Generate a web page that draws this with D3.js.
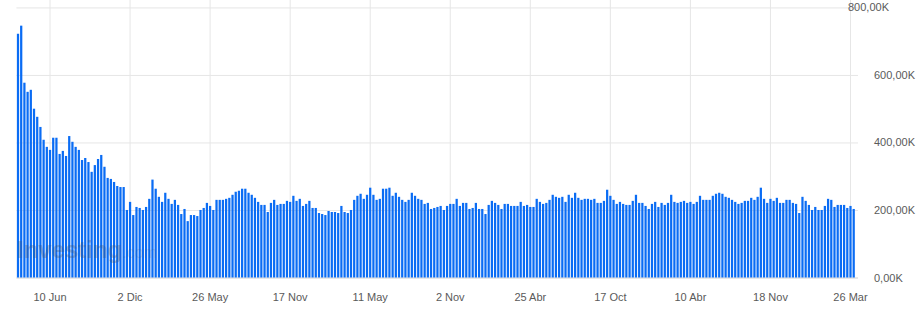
<!DOCTYPE html>
<html lang="es">
<head>
<meta charset="utf-8">
<title>Weekly bars</title>
<script src="https://d3js.org/d3.v7.min.js"></script>
<style>
  body { margin: 0; background: #fff; }
  text { font-family: "Liberation Sans", Arial, sans-serif; }
</style>
</head>
<body>
<svg id="chart" width="922" height="312"></svg>
<script>
// weekly values (thousands), in order
const values1 = [722, 746, 577, 550, 556, 500, 476, 446, 408, 387, 378, 414, 414, 366, 375, 360, 419, 402, 387, 378,
  348, 354, 342, 313, 333, 351, 363, 328, 295, 292, 283, 271, 268, 268, 200, 224, 185];
const values2 = [209, 206, 200, 209, 233, 290, 263, 239, 224, 251, 233, 218, 230, 215, 188, 203, 167, 185, 185, 182,
  200, 206, 221, 212, 200, 230, 230, 230, 233, 236, 245];
const values3 = [254, 257, 263, 263, 251, 245, 236, 224, 215, 215, 194, 221, 230, 215, 218, 218, 227, 224, 242, 227,
  233, 212, 218, 227, 206, 206, 191, 188, 185, 197, 194, 194];
const values4 = [191, 212, 194, 191, 200, 230, 242, 248, 233, 245, 266, 245, 230, 233, 263, 263, 266, 242, 251, 239,
  230, 224, 230, 251, 242, 233, 230, 218, 221, 203, 206, 209];
const values5 = [212, 200, 212, 218, 218, 233, 212, 221, 221, 203, 206, 221, 203, 203, 188, 215, 227, 221, 215, 203,
  218, 218, 212, 212, 212, 224, 212, 215, 209, 209, 233, 224];
const values6 = [218, 221, 230, 245, 239, 236, 239, 224, 245, 236, 251, 236, 230, 233, 233, 230, 233, 221, 221, 227,
  260, 242, 230, 218, 224, 218, 215, 215, 227, 245, 221, 221];
const values7 = [212, 203, 218, 224, 209, 221, 215, 221, 245, 224, 221, 224, 227, 221, 224, 218, 224, 242, 230, 230,
  230, 242, 248, 251, 248, 239, 236, 230, 224, 218, 221];
const values8 = [227, 227, 236, 230, 239, 266, 233, 221, 233, 227, 236, 221, 221, 230, 230, 221, 218, 191, 239, 227,
  215, 200, 209, 200, 200, 212, 233, 230, 209, 215, 215, 215, 206, 212, 203];

// x tick labels and the bar they sit on
const tickIndex = [10, 35, 60, 85, 110, 135, 160, 185, 210, 235, 260];
const tickLabels = ["10 Jun", "2 Dic", "26 May", "17 Nov", "11 May", "2 Nov", "25 Abr", "17 Oct", "10 Abr", "18 Nov", "26 Mar"];
const yTicks = [0, 200, 400, 600, 800];

const values = [].concat(values1, values2, values3, values4, values5, values6, values7, values8);

const plot = {left: 16.4, right: 855.3, top: 0, bottom: 277.5};

const svg = d3.select("#chart");

const x = d3.scaleBand()
  .domain(d3.range(values.length))
  .range([plot.left, plot.right])
  .paddingInner(0.3)
  .paddingOuter(0.15);

const y = d3.scaleLinear()
  .domain([0, 822])
  .range([plot.bottom, plot.top]);

// vertical grid at the labelled weeks
svg.append("g")
  .selectAll("line")
  .data(tickIndex)
  .join("line")
    .attr("x1", d => x(d) + x.bandwidth() / 2)
    .attr("x2", d => x(d) + x.bandwidth() / 2)
    .attr("y1", 0)
    .attr("y2", plot.bottom)
    .attr("stroke", "#e6e6e6");

// y axis on the right, ticks stretched into grid lines
const yAxis = svg.append("g")
  .attr("transform", "translate(858,0)")
  .call(d3.axisRight(y)
    .tickValues(yTicks)
    .tickSize(-(858 - plot.left))
    .tickPadding(17)
    .tickFormat(d => d.toFixed(2).replace(".", ",") + "K"));
yAxis.select(".domain").remove();
yAxis.selectAll(".tick line").attr("stroke", d => d === 0 ? "#cfcfcf" : "#e6e6e6");
yAxis.selectAll(".tick text")
  .attr("fill", "#5a5a5a")
  .attr("font-size", 11)
  .attr("font-family", "Liberation Sans, Arial, sans-serif")
  .attr("x", d => d === 800 ? -10 : 16);

// bars
svg.append("g")
  .selectAll("rect")
  .data(values)
  .join("rect")
    .attr("x", (d, i) => x(i))
    .attr("y", d => y(d))
    .attr("width", x.bandwidth())
    .attr("height", d => y(0) - y(d))
    .attr("fill", "#0a6cf4");

// x axis labels
const xAxis = svg.append("g")
  .attr("transform", `translate(0,${plot.bottom})`)
  .call(d3.axisBottom(x)
    .tickValues(tickIndex)
    .tickSize(0)
    .tickPadding(16)
    .tickFormat((d, i) => tickLabels[i]));
xAxis.select(".domain").remove();
xAxis.selectAll(".tick text")
  .attr("fill", "#5a5a5a")
  .attr("font-size", 11)
  .attr("font-family", "Liberation Sans, Arial, sans-serif");

// watermark
const wm = svg.append("text")
  .attr("x", 17)
  .attr("y", 258)
  .attr("font-size", 24)
  .attr("font-weight", "bold");
wm.append("tspan").text("Investing").attr("fill", "#3f4f66").attr("fill-opacity", 0.3);
wm.append("tspan").text(".com").attr("font-size", 16).attr("font-weight", "normal")
  .attr("fill", "#3f4f66").attr("fill-opacity", 0.14);
</script>
</body>
</html>
